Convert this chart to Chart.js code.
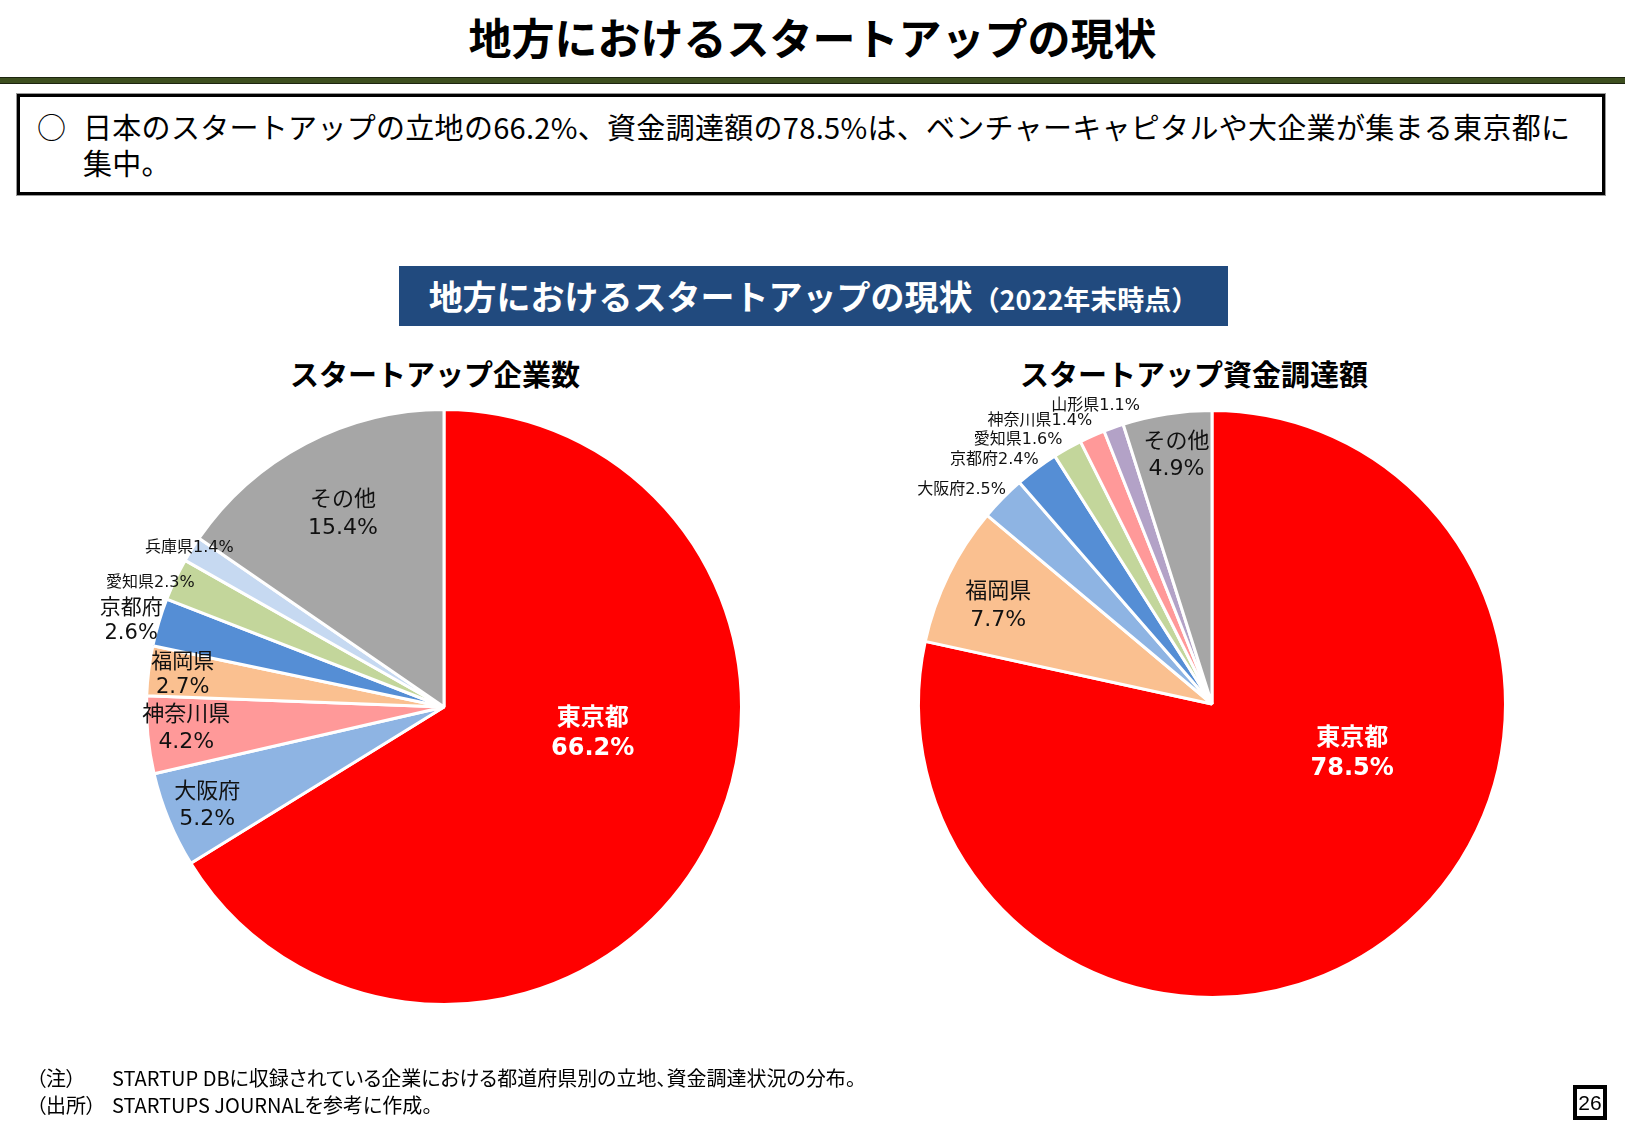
<!DOCTYPE html>
<html lang="ja">
<head>
<meta charset="utf-8">
<script src="https://cdn.jsdelivr.net/npm/chart.js@4.4.1/dist/chart.umd.min.js"></script>
<style>
  html, body { margin: 0; padding: 0; background: #fff; }
  body { width: 1625px; height: 1125px; position: relative; overflow: hidden;
         font-family: "Noto Sans CJK JP", "Noto Sans", sans-serif; color: #000; }
  .abs { position: absolute; white-space: nowrap; }
  #title { left: 0; width: 1625px; top: 8px; text-align: center; font-size: 43px; font-weight: 700; line-height: 56px; }
  #rule { left: 0; top: 77px; width: 1625px; height: 5px; background: #3d4f1f; border-top: 1px solid #1c2410; border-bottom: 1px solid #1c2410; }
  #box { left: 17px; top: 94px; width: 1582px; height: 95px; border: 3px solid #000; outline: 1px solid #999; outline-offset: 0; }
  #bullet { left: 37px; top: 108px; font-size: 29px; line-height: 36px; }
  #lead { left: 83px; top: 108px; font-size: 29px; line-height: 36px; letter-spacing: 0.3px; }
  #banner { left: 399px; top: 266px; width: 829px; height: 60px; background: #214a7e; color: #fff;
            text-align: center; font-weight: 700; font-size: 34px; line-height: 60px; }
  #banner small { font-size: 27px; }
  .sub { top: 353px; font-size: 29px; font-weight: 700; line-height: 40px; transform: translateX(-50%); }
  canvas { position: absolute; }
  .note { font-size: 20px; line-height: 27px; font-feature-settings: "palt"; }
  #page { left: 1573px; top: 1085px; width: 26px; height: 27px; border: 4px solid #000;
          font-family: "Liberation Sans", Arial, sans-serif; font-size: 21px; line-height: 27px; text-align: center; }
</style>
</head>
<body>
<div id="title" class="abs">地方におけるスタートアップの現状</div>
<div id="rule" class="abs"></div>
<div id="box" class="abs"></div>
<div id="bullet" class="abs">○</div>
<div id="lead" class="abs">日本のスタートアップの立地の66.2%、資金調達額の78.5%は、ベンチャーキャピタルや大企業が集まる東京都に<br>集中。</div>
<div id="banner" class="abs">地方におけるスタートアップの現状<small>（2022年末時点）</small></div>
<div class="abs sub" style="left:435px">スタートアップ企業数</div>
<div class="abs sub" style="left:1194px">スタートアップ資金調達額</div>
<canvas id="left" width="800" height="800" style="left:44px; top:307px"></canvas>
<canvas id="right" width="800" height="800" style="left:812px; top:304px"></canvas>
<div class="abs note" style="left:36px; top:1064px">（注）</div>
<div class="abs note" style="left:112px; top:1064px">STARTUP DBに収録されている企業における都道府県別の立地、資金調達状況の分布。</div>
<div class="abs note" style="left:36px; top:1091px">（出所）</div>
<div class="abs note" style="left:112px; top:1091px">STARTUPS JOURNALを参考に作成。</div>
<div id="page" class="abs">26</div>

<script>
// data
const leftCategories = ["東京都", "大阪府", "神奈川県", "福岡県", "京都府", "愛知県", "兵庫県", "その他"];
const leftValues = [66.2, 5.2, 4.2, 2.7, 2.6, 2.3, 1.4, 15.4];

const rightCategories = ["東京都", "福岡県", "大阪府", "京都府", "愛知県", "神奈川県", "山形県", "その他"];
const rightValues = [78.5, 7.7, 2.5, 2.4, 1.6, 1.4, 1.1, 4.9];

const prefColors = {
  "東京都": "#ff0000",
  "大阪府": "#8eb4e3",
  "神奈川県": "#ff9999",
  "福岡県": "#fac090",
  "京都府": "#558ed5",
  "愛知県": "#c3d69b",
  "兵庫県": "#c6d9f1",
  "山形県": "#b3a2c7",
  "その他": "#a6a6a6",
};

// label placement: radial fraction + nudge, font size, line height, single line or not
const leftLabelStyle = [
  { f: 0.48, dx: 24, dy: -43, size: 24, lh: 30, bold: true, color: "#fff" },
  { f: 0.86, dx: 0, dy: 2, size: 22, lh: 27 },
  { f: 0.87, dx: 0, dy: -3, size: 22, lh: 27 },
  { f: 0.885, dx: 0, dy: 0, size: 21, lh: 25 },
  { f: 1.09, dx: -2, dy: 6, size: 21, lh: 25 },
  { f: 1.07, dx: -6, dy: 12, size: 16, inline: true },
  { f: 1.01, dx: 0, dy: 0, size: 16, inline: true },
  { f: 0.73, dx: 0, dy: 0, size: 22, lh: 28 },
];
const rightLabelStyle = [
  { f: 0.43, dx: 61, dy: -49, size: 24, lh: 30, bold: true, color: "#fff" },
  { f: 0.80, dx: -3, dy: 6, size: 22, lh: 28 },
  { f: 1.12, dx: -16, dy: 16, size: 16, inline: true },
  { f: 1.11, dx: -23, dy: 17, size: 16, inline: true },
  { f: 1.107, dx: -34, dy: 19, size: 16, inline: true },
  { f: 1.12, dx: -38, dy: 17, size: 16, inline: true },
  { f: 1.09, dx: -9, dy: 3, size: 16, inline: true },
  { f: 0.855, dx: 3, dy: 0, size: 22, lh: 27 },
];

const labelFont = '"DejaVu Sans", "Noto Sans CJK JP", sans-serif';

const sliceLabels = {
  id: "slice_labels",
  afterDatasetsDraw(chart, args, opts) {
    const { ctx } = chart;
    const meta = chart.getDatasetMeta(0);
    const cats = chart.data.labels;
    const vals = chart.data.datasets[0].data;
    meta.data.forEach((arc, i) => {
      const st = opts.styles[i];
      const { x, y, startAngle, endAngle, outerRadius } = arc.getProps(
        ["x", "y", "startAngle", "endAngle", "outerRadius"], true);
      const mid = (startAngle + endAngle) / 2;
      const px = x + Math.cos(mid) * outerRadius * st.f + st.dx;
      const py = y + Math.sin(mid) * outerRadius * st.f + st.dy;
      const pct = vals[i].toFixed(1) + "%";
      const lines = st.inline ? [cats[i] + pct] : [cats[i], pct];
      ctx.save();
      ctx.fillStyle = st.color || "#111";
      ctx.font = `${st.bold ? "bold " : ""}${st.size}px ${labelFont}`;
      ctx.textAlign = "center";
      ctx.textBaseline = "middle";
      const lh = st.lh || st.size;
      lines.forEach((t, k) => {
        ctx.fillText(t, px, py + (k - (lines.length - 1) / 2) * lh);
      });
      ctx.restore();
    });
  },
};

function makePie(id, cats, vals, styles, pad) {
  return new Chart(document.getElementById(id), {
    type: "pie",
    data: {
      labels: cats,
      datasets: [{
        data: vals,
        backgroundColor: cats.map((c) => prefColors[c]),
        borderColor: "#ffffff",
        borderWidth: 3,
      }],
    },
    options: {
      responsive: false,
      animation: false,
      layout: { padding: pad },
      plugins: {
        legend: { display: false },
        tooltip: { enabled: false },
        slice_labels: { styles },
      },
    },
    plugins: [sliceLabels],
  });
}

makePie("left", leftCategories, leftValues, leftLabelStyle, 101);
makePie("right", rightCategories, rightValues, rightLabelStyle, 105);
</script>
</body>
</html>
